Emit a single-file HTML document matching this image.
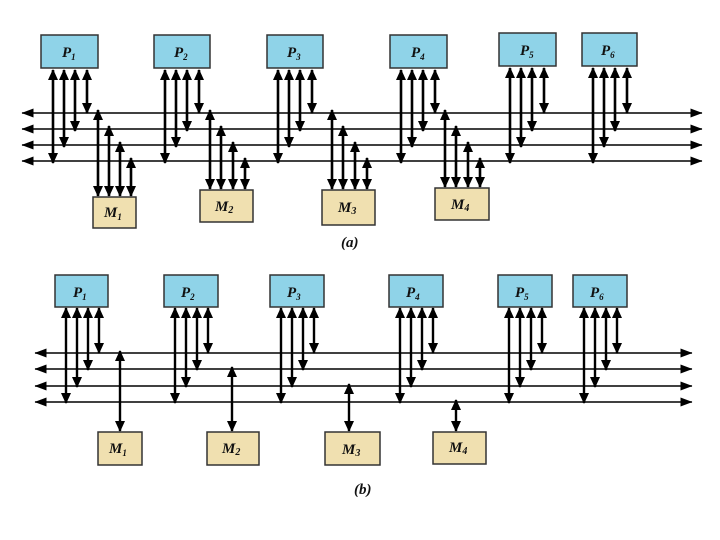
<!DOCTYPE html>
<html><head><meta charset="utf-8"><style>
body{margin:0;background:#fff}
svg{display:block}
text{font-family:"Liberation Serif",serif;font-style:italic;font-weight:bold;font-size:15px}
</style></head><body>
<svg width="720" height="540" viewBox="0 0 720 540" xmlns="http://www.w3.org/2000/svg">
<defs>
<marker id="a" markerWidth="11" markerHeight="10" refX="10" refY="5" orient="auto-start-reverse" markerUnits="userSpaceOnUse"><path d="M0,0 L11,5 L0,10 Z" fill="#000"/></marker>
<marker id="b" markerWidth="12" markerHeight="9" refX="11.5" refY="4.5" orient="auto-start-reverse" markerUnits="userSpaceOnUse"><path d="M0,0 L12,4.5 L0,9 Z" fill="#000"/></marker>
</defs>
<g stroke="#000" stroke-width="1.6" fill="none">
<line x1="22" y1="113" x2="702" y2="113" marker-start="url(#b)" marker-end="url(#b)"/>
<line x1="22" y1="129" x2="702" y2="129" marker-start="url(#b)" marker-end="url(#b)"/>
<line x1="22" y1="145" x2="702" y2="145" marker-start="url(#b)" marker-end="url(#b)"/>
<line x1="22" y1="161" x2="702" y2="161" marker-start="url(#b)" marker-end="url(#b)"/>
<line x1="35" y1="353" x2="692" y2="353" marker-start="url(#b)" marker-end="url(#b)"/>
<line x1="35" y1="369" x2="692" y2="369" marker-start="url(#b)" marker-end="url(#b)"/>
<line x1="35" y1="386" x2="692" y2="386" marker-start="url(#b)" marker-end="url(#b)"/>
<line x1="35" y1="402" x2="692" y2="402" marker-start="url(#b)" marker-end="url(#b)"/>
</g>
<g stroke="#000" stroke-width="2.6" marker-start="url(#a)" marker-end="url(#a)">
<line x1="53" y1="70" x2="53" y2="163"/><line x1="64" y1="70" x2="64" y2="147"/><line x1="75" y1="70" x2="75" y2="131"/><line x1="87" y1="70" x2="87" y2="113"/>
<line x1="165" y1="70" x2="165" y2="163"/><line x1="176" y1="70" x2="176" y2="147"/><line x1="187" y1="70" x2="187" y2="131"/><line x1="199" y1="70" x2="199" y2="113"/>
<line x1="278" y1="70" x2="278" y2="163"/><line x1="289" y1="70" x2="289" y2="147"/><line x1="300" y1="70" x2="300" y2="131"/><line x1="312" y1="70" x2="312" y2="113"/>
<line x1="401" y1="70" x2="401" y2="163"/><line x1="412" y1="70" x2="412" y2="147"/><line x1="423" y1="70" x2="423" y2="131"/><line x1="435" y1="70" x2="435" y2="113"/>
<line x1="510" y1="68" x2="510" y2="163"/><line x1="521" y1="68" x2="521" y2="147"/><line x1="532" y1="68" x2="532" y2="131"/><line x1="544" y1="68" x2="544" y2="113"/>
<line x1="593" y1="68" x2="593" y2="163"/><line x1="604" y1="68" x2="604" y2="147"/><line x1="615" y1="68" x2="615" y2="131"/><line x1="627" y1="68" x2="627" y2="113"/>
<line x1="98" y1="196" x2="98" y2="110"/><line x1="109" y1="196" x2="109" y2="126"/><line x1="120" y1="196" x2="120" y2="142"/><line x1="131" y1="196" x2="131" y2="158"/>
<line x1="210" y1="189" x2="210" y2="110"/><line x1="221" y1="189" x2="221" y2="126"/><line x1="233" y1="189" x2="233" y2="142"/><line x1="245" y1="189" x2="245" y2="158"/>
<line x1="332" y1="189" x2="332" y2="110"/><line x1="343" y1="189" x2="343" y2="126"/><line x1="355" y1="189" x2="355" y2="142"/><line x1="367" y1="189" x2="367" y2="158"/>
<line x1="445" y1="187" x2="445" y2="110"/><line x1="456" y1="187" x2="456" y2="126"/><line x1="468" y1="187" x2="468" y2="142"/><line x1="480" y1="187" x2="480" y2="158"/>
</g>
<g stroke="#000" stroke-width="2.4" marker-start="url(#a)" marker-end="url(#a)">
<line x1="66" y1="308" x2="66" y2="403"/><line x1="77" y1="308" x2="77" y2="387"/><line x1="88" y1="308" x2="88" y2="370"/><line x1="99" y1="308" x2="99" y2="353"/>
<line x1="175" y1="308" x2="175" y2="403"/><line x1="186" y1="308" x2="186" y2="387"/><line x1="197" y1="308" x2="197" y2="370"/><line x1="208" y1="308" x2="208" y2="353"/>
<line x1="281" y1="308" x2="281" y2="403"/><line x1="292" y1="308" x2="292" y2="387"/><line x1="303" y1="308" x2="303" y2="370"/><line x1="314" y1="308" x2="314" y2="353"/>
<line x1="400" y1="308" x2="400" y2="403"/><line x1="411" y1="308" x2="411" y2="387"/><line x1="422" y1="308" x2="422" y2="370"/><line x1="433" y1="308" x2="433" y2="353"/>
<line x1="509" y1="308" x2="509" y2="403"/><line x1="520" y1="308" x2="520" y2="387"/><line x1="531" y1="308" x2="531" y2="370"/><line x1="542" y1="308" x2="542" y2="353"/>
<line x1="584" y1="308" x2="584" y2="403"/><line x1="595" y1="308" x2="595" y2="387"/><line x1="606" y1="308" x2="606" y2="370"/><line x1="617" y1="308" x2="617" y2="353"/>
<line x1="120" y1="431" x2="120" y2="351"/>
<line x1="232" y1="431" x2="232" y2="367"/>
<line x1="349" y1="431" x2="349" y2="384"/>
<line x1="456" y1="431" x2="456" y2="400"/>
</g>
<g stroke="#333" stroke-width="1.5">
<rect x="41" y="35" width="57" height="33" fill="#8fd3e8"/>
<rect x="154" y="35" width="56" height="33" fill="#8fd3e8"/>
<rect x="267" y="35" width="56" height="33" fill="#8fd3e8"/>
<rect x="390" y="35" width="57" height="33" fill="#8fd3e8"/>
<rect x="499" y="33" width="57" height="33" fill="#8fd3e8"/>
<rect x="582" y="33" width="55" height="33" fill="#8fd3e8"/>
<rect x="93" y="197" width="43" height="31" fill="#f0e0b0"/>
<rect x="200" y="190" width="53" height="32" fill="#f0e0b0"/>
<rect x="322" y="190" width="53" height="35" fill="#f0e0b0"/>
<rect x="435" y="188" width="54" height="32" fill="#f0e0b0"/>
<rect x="55" y="275" width="53" height="32" fill="#8fd3e8"/>
<rect x="164" y="275" width="54" height="32" fill="#8fd3e8"/>
<rect x="270" y="275" width="54" height="32" fill="#8fd3e8"/>
<rect x="389" y="275" width="54" height="32" fill="#8fd3e8"/>
<rect x="498" y="275" width="54" height="32" fill="#8fd3e8"/>
<rect x="573" y="275" width="54" height="32" fill="#8fd3e8"/>
<rect x="98" y="432" width="44" height="33" fill="#f0e0b0"/>
<rect x="207" y="432" width="52" height="33" fill="#f0e0b0"/>
<rect x="325" y="432" width="55" height="33" fill="#f0e0b0"/>
<rect x="433" y="432" width="53" height="32" fill="#f0e0b0"/>
</g>
<g fill="#111">
<text x="62" y="57">P<tspan font-size="9" dy="3">1</tspan></text>
<text x="174" y="57">P<tspan font-size="9" dy="3">2</tspan></text>
<text x="287" y="57">P<tspan font-size="9" dy="3">3</tspan></text>
<text x="411" y="57">P<tspan font-size="9" dy="3">4</tspan></text>
<text x="520" y="55">P<tspan font-size="9" dy="3">5</tspan></text>
<text x="601" y="55">P<tspan font-size="9" dy="3">6</tspan></text>
<text x="104" y="217">M<tspan font-size="9" dy="3">1</tspan></text>
<text x="215" y="211">M<tspan font-size="10" dy="2">2</tspan></text>
<text x="338" y="212">M<tspan font-size="10" dy="2">3</tspan></text>
<text x="451" y="209">M<tspan font-size="10" dy="2">4</tspan></text>
<text x="73" y="297">P<tspan font-size="9" dy="3">1</tspan></text>
<text x="181" y="297">P<tspan font-size="9" dy="3">2</tspan></text>
<text x="287" y="297">P<tspan font-size="9" dy="3">3</tspan></text>
<text x="406" y="297">P<tspan font-size="9" dy="3">4</tspan></text>
<text x="515" y="297">P<tspan font-size="9" dy="3">5</tspan></text>
<text x="590" y="297">P<tspan font-size="9" dy="3">6</tspan></text>
<text x="109" y="453">M<tspan font-size="9" dy="3">1</tspan></text>
<text x="222" y="453">M<tspan font-size="10" dy="2">2</tspan></text>
<text x="342" y="454">M<tspan font-size="10" dy="2">3</tspan></text>
<text x="449" y="452">M<tspan font-size="10" dy="2">4</tspan></text>
<text x="341" y="247" font-weight="normal" font-size="13">(a)</text>
<text x="354" y="494" font-weight="normal" font-size="13">(b)</text>
</g>
</svg>
</body></html>
